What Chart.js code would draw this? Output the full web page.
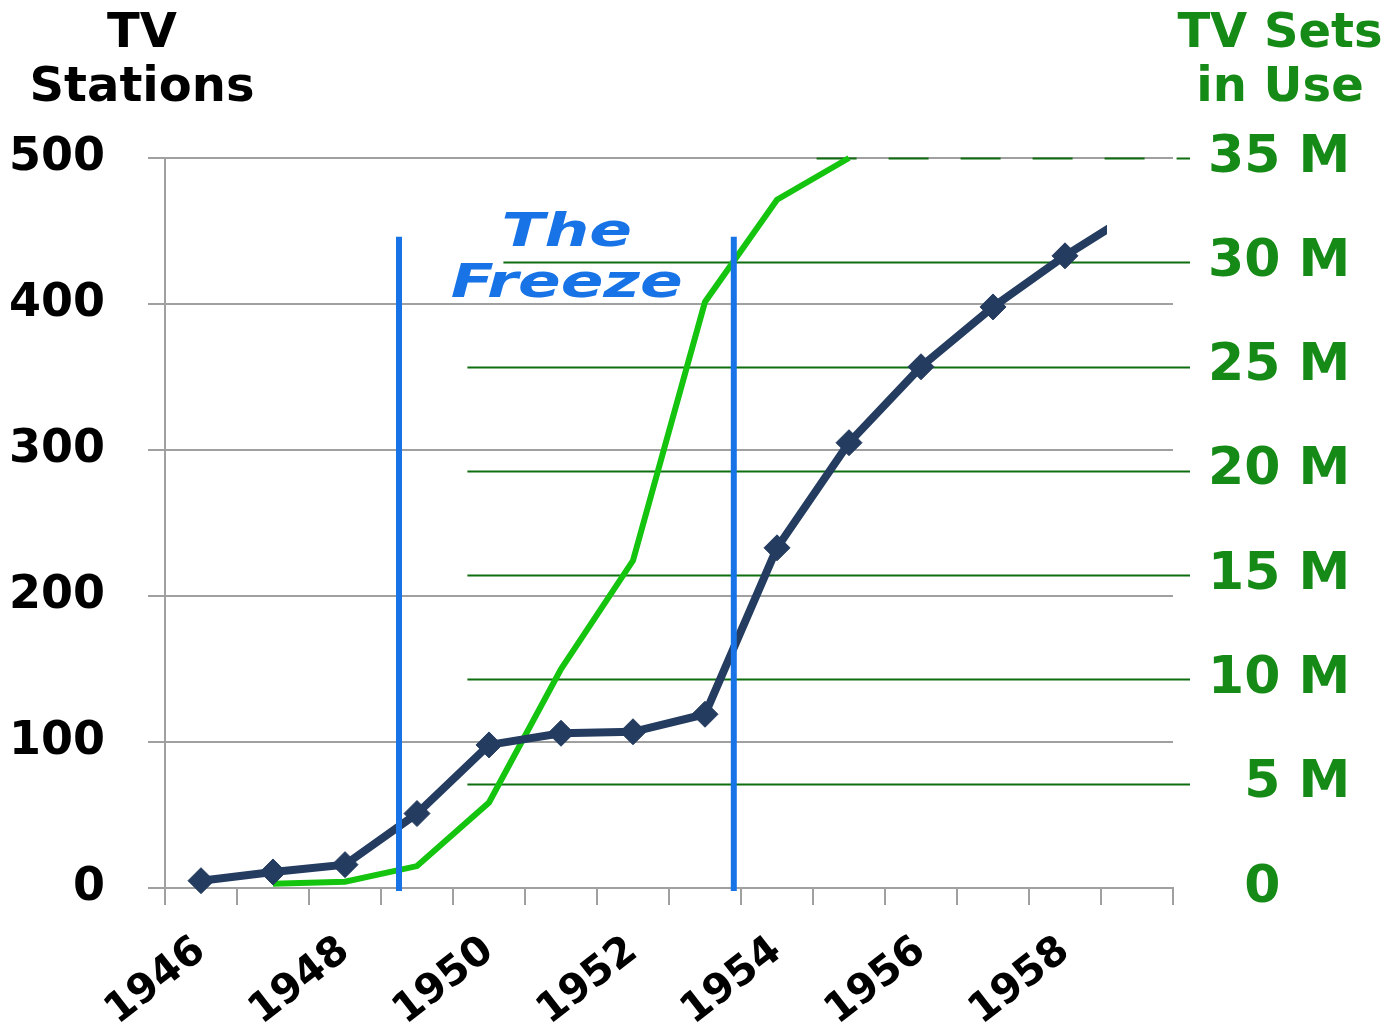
<!DOCTYPE html>
<html>
<head>
<meta charset="utf-8">
<script src="https://cdn.jsdelivr.net/npm/chart.js@4"></script>
<style>
  html, body { margin: 0; padding: 0; background: #fff; }
  #wrap { position: relative; width: 1392px; height: 1031px; }
  canvas { position: absolute; left: 0; top: 0; }
  .title {
    position: absolute; font-family: "DejaVu Sans", Verdana, sans-serif;
    font-weight: bold; font-size: 48px; line-height: 54px; text-align: center;
  }
  #leftTitle { left: 20px; top: 3px; width: 244px; color: #000; }
  #rightTitle { left: 1160px; top: 3px; width: 240px; color: #168a16; }
</style>
</head>
<body>
<div id="wrap">
  <canvas id="tvChart" width="1392" height="1031"></canvas>
  <div class="title" id="leftTitle">TV<br>Stations</div>
  <div class="title" id="rightTitle">TV Sets<br>in Use</div>
</div>
<script>
// dados
const years = ["1946", "1947", "1948", "1949", "1950", "1951", "1952", "1953", "1954", "1955", "1956", "1957", "1958", "1959"];
const tvStations = [5, 11, 16, 51, 98, 106, 107, 119, 233, 305, 357, 398, 433, 464];
const tvSets = [null, 0.2, 0.3, 1.05, 4.1, 10.5, 15.7, 28.1, 33.0, 35.0, null, null, null, null]; // milhões
const stationTicks = [0, 100, 200, 300, 400, 500];
const setsTicks = [0, 5, 10, 15, 20, 25, 30, 35];
const freezeYears = [1948.75, 1953.4];
const freezeLabel = ["The", "Freeze"];

// cores
const navy = "#243c60";
const brightGreen = "#14c40e";
const darkGreen = "#168a16";
const gridGreen = "#0f6e0f";
const freezeBlue = "#1874e6";
const gray = "#a0a0a0";
const fontFamily = "'DejaVu Sans', Verdana, sans-serif";

// linhas verdes do eixo direito (começo de cada uma, em anos)
const setsGridStart = { 5: 1949.7, 10: 1949.7, 15: 1949.7, 20: 1949.7, 25: 1949.7, 30: 1950.2, 35: 1954.55 };

const yearToIndex = (yr) => yr - Number(years[0]);

const overlayPlugin = {
  id: "overlay",
  beforeDatasetsDraw(chart) {
    const { ctx, chartArea } = chart;
    const x = chart.scales.x;
    const y2 = chart.scales.y2;
    ctx.save();
    ctx.strokeStyle = gridGreen;
    ctx.lineWidth = 2;
    setsTicks.forEach((v) => {
      if (!setsGridStart[v]) return;
      const py = Math.round(y2.getPixelForValue(v)) + 0.5;
      ctx.setLineDash(v === 35 ? [40, 32] : []);
      ctx.beginPath();
      ctx.moveTo(x.getPixelForValue(yearToIndex(setsGridStart[v])), py);
      ctx.lineTo(chartArea.right + 17, py);
      ctx.stroke();
    });
    ctx.restore();
  },
  afterDatasetsDraw(chart) {
    const { ctx } = chart;
    const x = chart.scales.x;
    const y = chart.scales.y;

    // linhas do congelamento
    ctx.save();
    ctx.strokeStyle = freezeBlue;
    ctx.lineWidth = 6;
    freezeYears.forEach((yr) => {
      const px = x.getPixelForValue(yearToIndex(yr));
      ctx.beginPath();
      ctx.moveTo(px, y.getPixelForValue(446));
      ctx.lineTo(px, y.getPixelForValue(-2));
      ctx.stroke();
    });

    // texto "The Freeze"
    ctx.fillStyle = freezeBlue;
    ctx.font = "italic bold 47px " + fontFamily;
    ctx.textAlign = "center";
    ctx.textBaseline = "alphabetic";
    const cx = x.getPixelForValue(yearToIndex(1951.08));
    [[freezeLabel[0], 440], [freezeLabel[1], 405]].forEach(([txt, val]) => {
      ctx.save();
      ctx.translate(cx, y.getPixelForValue(val));
      ctx.scale(1.34, 1);
      ctx.fillText(txt, 0, 0);
      ctx.restore();
    });
    ctx.restore();
  }
};

const ctx = document.getElementById("tvChart").getContext("2d");

const tvChart = new Chart(ctx, {
  type: "line",
  data: {
    labels: years,
    datasets: [
      {
        label: "TV Stations",
        data: tvStations,
        yAxisID: "y",
        borderColor: navy,
        backgroundColor: navy,
        borderWidth: 8,
        tension: 0,
        pointStyle: "rectRot",
        pointRadius: 13,
        pointBorderWidth: 1,
        pointBackgroundColor: navy,
        pointBorderColor: navy,
        clip: { left: false, top: false, right: -66, bottom: false }
      },
      {
        label: "TV Sets in Use",
        data: tvSets,
        yAxisID: "y2",
        borderColor: brightGreen,
        borderWidth: 6,
        tension: 0,
        pointRadius: 0,
        clip: false
      }
    ]
  },
  options: {
    responsive: false,
    animation: false,
    events: [],
    layout: { padding: { top: 158, left: 0, right: 0, bottom: 0 } },
    plugins: {
      legend: { display: false },
      tooltip: { enabled: false }
    },
    scales: {
      x: {
        offset: true,
        grid: { display: true, offset: true, drawOnChartArea: false, drawTicks: true, tickLength: 17, color: gray, lineWidth: 2 },
        border: { display: true, color: gray, width: 2 },
        ticks: {
          autoSkip: false,
          minRotation: 38,
          maxRotation: 38,
          padding: 22,
          color: "#000",
          font: { family: fontFamily, size: 41, weight: "bold" },
          callback: function (value, index) {
            return index % 2 === 0 ? years[index] : "";
          }
        },
        afterFit: (scale) => { scale.height = 143; }
      },
      y: {
        position: "left",
        min: 0,
        max: 500,
        afterBuildTicks: (scale) => { scale.ticks = stationTicks.map((v) => ({ value: v })); },
        grid: { color: gray, lineWidth: 2, drawTicks: true, tickLength: 17 },
        border: { display: true, color: gray, width: 2 },
        ticks: {
          padding: 43,
          color: "#000",
          font: { family: fontFamily, size: 46, weight: "bold" }
        },
        afterFit: (scale) => { scale.width = 165; }
      },
      y2: {
        position: "right",
        min: 0,
        max: 35,
        afterBuildTicks: (scale) => { scale.ticks = setsTicks.map((v) => ({ value: v })); },
        grid: { display: false, drawTicks: false },
        border: { display: false },
        ticks: {
          padding: 35,
          color: darkGreen,
          font: { family: fontFamily, size: 52, weight: "bold" },
          callback: function (value) {
            if (value === 0) return "\u20070";
            return (value < 10 ? "\u2007" : "") + value + " M";
          }
        },
        afterFit: (scale) => { scale.width = 219; }
      }
    }
  },
  plugins: [overlayPlugin]
});
</script>
</body>
</html>
